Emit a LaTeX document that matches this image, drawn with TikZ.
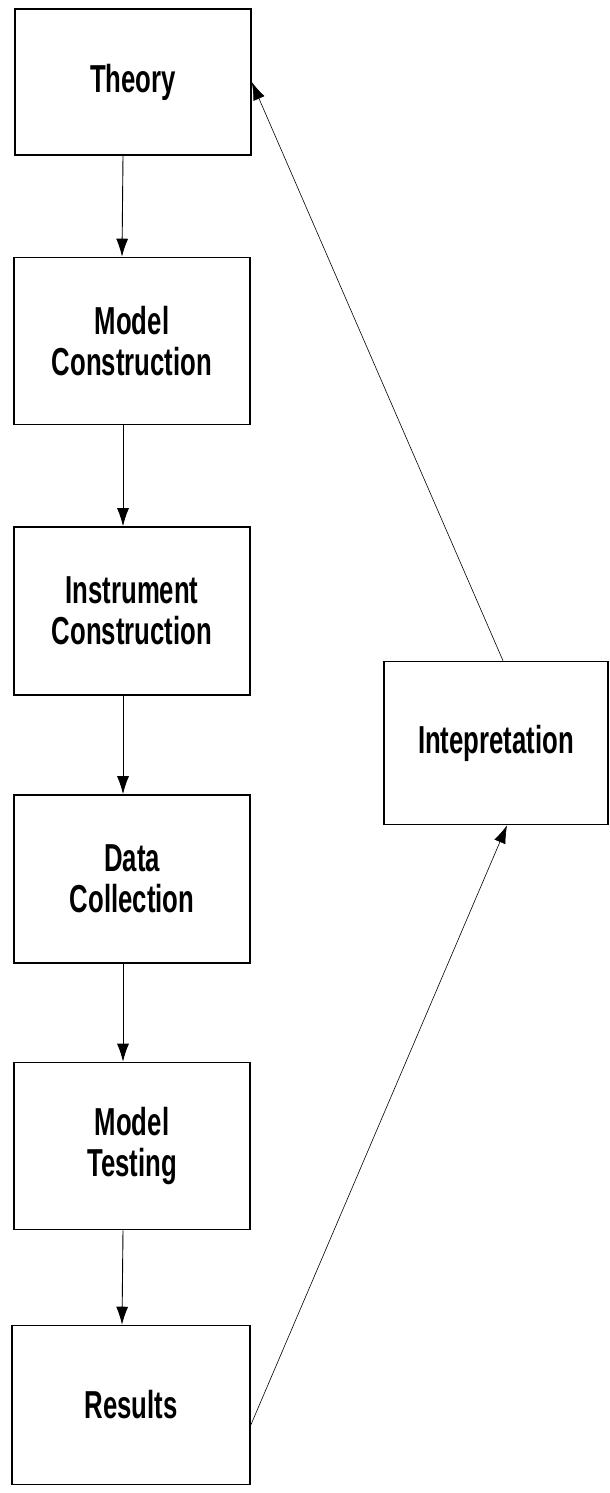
\documentclass[tikz,border=0pt]{standalone}
\usepackage{fontspec}
\setmainfont{Liberation Sans}[FakeStretch=0.66]
\usetikzlibrary{arrows.meta}

\tikzset{
  stage/.style={draw, line width=1.6pt, minimum width=236pt, inner sep=0pt,
    align=center, font=\fontsize{39}{41}\selectfont\bfseries},
  flow/.style={-{Latex[length=18pt,width=12pt]}, line width=0.9pt},
  back/.style={-{Latex[length=18pt,width=12pt]}, line width=0.6pt}
}

\begin{document}
\begin{tikzpicture}[x=1pt,y=-1pt]
  \useasboundingbox (0,0) rectangle (610,1493);

  % colonna di sinistra
  \node[stage, minimum height=146pt] (theory) at (133,82) {Theory};
  \node[stage, minimum height=167pt] (modelc) at (132,341) {Model\\Construction};
  \node[stage, minimum height=168pt] (instr)  at (132,611) {Instrument\\Construction};
  \node[stage, minimum height=168pt] (data)   at (132,879) {Data\\Collection};
  \node[stage, minimum height=167pt] (testing) at (132,1146) {Model\\Testing};
  \node[stage, minimum height=159pt, minimum width=238pt] (results) at (131,1405) {Results};

  % interpretazione
  \node[stage, minimum height=163pt, minimum width=224pt] (interp) at (496,743) {Intepretation};

  % frecce verticali
  \draw[flow] ([xshift=-10pt]theory.south) -- ([xshift=-10pt]modelc.north);
  \draw[flow] ([xshift=-9pt]modelc.south) -- ([xshift=-9pt]instr.north);
  \draw[flow] ([xshift=-9pt]instr.south) -- ([xshift=-9pt]data.north);
  \draw[flow] ([xshift=-9pt]data.south) -- ([xshift=-9pt]testing.north);
  \draw[flow] ([xshift=-9pt]testing.south) -- ([xshift=-9pt]results.north);

  % ritorno
  \draw[back] ([yshift=-20pt]results.east) -- ([xshift=11pt]interp.south);
  \draw[back] ([xshift=7pt]interp.north) -- (theory.east);
\end{tikzpicture}
\end{document}
